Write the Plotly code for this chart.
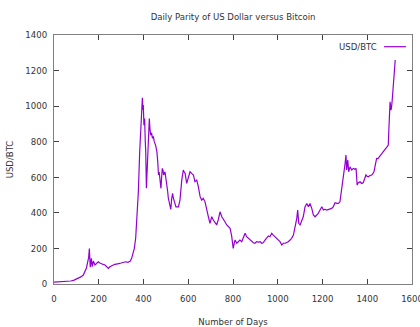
import plotly.graph_objects as go

# Daily USD/BTC parity, sampled by day number
days = [0, 20, 40, 60, 75, 90, 100, 110, 120, 131, 139, 145, 150, 155, 158, 160, 162, 165, 167, 170,
        171, 176, 183, 190, 198, 205, 213, 220, 228, 235, 243, 250, 258, 265, 272, 280, 290, 300, 310, 320,
        330, 340, 347, 353, 359, 365, 371, 377, 383, 389, 393, 395, 397, 399, 402, 405, 408, 410, 413, 417,
        422, 426, 429, 432, 436, 440, 444, 448, 454, 460, 464, 467, 470, 473, 476, 478, 481, 484, 487, 490,
        496, 500, 504, 508, 511, 515, 519, 522, 526, 530, 533, 536, 545, 556, 563, 571, 578, 582, 586, 593,
        600, 608, 615, 623, 630, 638, 645, 649, 653, 660, 667, 675, 682, 690, 697, 705, 712, 720, 727, 734,
        742, 750, 757, 764, 772, 779, 787, 794, 801, 805, 809, 817, 824, 831, 839, 846, 854, 861, 869, 876,
        884, 891, 898, 906, 913, 921, 928, 935, 943, 950, 958, 965, 973, 980, 988, 995, 1003, 1010, 1018, 1025,
        1033, 1040, 1047, 1055, 1062, 1070, 1077, 1085, 1089, 1094, 1100, 1107, 1114, 1122, 1130, 1137, 1144, 1152, 1159, 1167,
        1174, 1181, 1189, 1197, 1204, 1211, 1219, 1226, 1234, 1241, 1248, 1256, 1264, 1271, 1278, 1286, 1290, 1296, 1301, 1305,
        1308, 1313, 1317, 1323, 1331, 1338, 1345, 1350, 1355, 1360, 1368, 1375, 1382, 1388, 1394, 1400, 1405, 1412, 1420, 1425,
        1430, 1436, 1442, 1448, 1454, 1460, 1465, 1470, 1475, 1481, 1487, 1494, 1496, 1498, 1500, 1502, 1504, 1506, 1508, 1511,
        1514, 1516, 1518, 1521, 1523, 1525]
usd_btc = [11, 12, 13, 14, 17, 22, 27, 32, 40, 50, 70, 90, 120, 150, 200, 130, 94, 120, 144, 110,
           97, 129, 107, 115, 125, 118, 116, 110, 107, 95, 88, 97, 100, 107, 110, 111, 115, 118, 122, 125,
           122, 128, 144, 170, 200, 257, 369, 519, 743, 931, 1010, 1047, 980, 1006, 893, 931, 800, 743, 538, 688,
           819, 931, 870, 837, 850, 819, 830, 800, 781, 743, 680, 613, 630, 594, 560, 538, 600, 650, 640, 613,
           631, 600, 556, 520, 482, 460, 444, 420, 480, 510, 485, 472, 434, 434, 472, 584, 641, 630, 622, 566,
           603, 631, 622, 613, 575, 584, 547, 510, 491, 472, 482, 462, 416, 378, 341, 378, 360, 341, 332, 360,
           406, 378, 360, 350, 332, 322, 313, 270, 200, 225, 247, 229, 238, 247, 238, 257, 285, 266, 257, 247,
           238, 232, 229, 238, 236, 238, 229, 232, 247, 257, 270, 266, 285, 275, 266, 257, 247, 238, 219, 229,
           229, 232, 238, 247, 257, 275, 313, 369, 416, 341, 332, 360, 378, 434, 453, 434, 453, 425, 388, 378,
           388, 397, 416, 434, 416, 420, 416, 420, 425, 425, 434, 457, 453, 453, 462, 528, 584, 622, 678, 725,
           641, 697, 631, 659, 641, 650, 645, 650, 556, 570, 575, 565, 569, 590, 613, 605, 603, 610, 613, 620,
           631, 670, 706, 705, 716, 725, 734, 745, 753, 760, 768, 781, 850, 940, 1000, 1025, 1000, 978, 990, 1025,
           1080, 1137, 1160, 1184, 1220, 1259]

x_ticks = [0, 200, 400, 600, 800, 1000, 1200, 1400, 1600]
y_ticks = [0, 200, 400, 600, 800, 1000, 1200, 1400]

LINE = "#9400D3"
FONT = "Liberation Sans Narrow, DejaVu Sans Condensed, Arial Narrow, sans-serif"
TXT = "#333333"
FS = 9.5

fig = go.Figure()
fig.add_trace(go.Scatter(x=days, y=usd_btc, mode="lines", name="USD/BTC",
                         line=dict(color=LINE, width=1.2), showlegend=False))

axis_common = dict(showgrid=False, zeroline=False, showline=True, linecolor="#808080", linewidth=1,
                   mirror="allticks", ticks="inside", ticklen=5, tickcolor="#404040", tickwidth=1,
                   ticklabeloverflow="allow", automargin=False,
                   tickfont=dict(family=FONT, size=FS, color=TXT))

fig.update_xaxes(range=[0, 1600], tickvals=x_ticks, ticktext=[str(v) for v in x_ticks],
                 ticklabelstandoff=6,
                 title=dict(text="Number of Days", font=dict(family=FONT, size=FS, color=TXT), standoff=16),
                 **axis_common)
fig.update_yaxes(range=[0, 1400], tickvals=y_ticks, ticktext=[str(v) for v in y_ticks],
                 ticklabelstandoff=4,
                 title=dict(text="USD/BTC", font=dict(family=FONT, size=FS, color=TXT), standoff=10),
                 **axis_common)

# Key: label followed by a short line sample, in the upper right corner
fig.add_annotation(xref="paper", yref="paper", x=0.907, y=0.953, xanchor="right", yanchor="middle",
                   text="USD/BTC", showarrow=False, font=dict(family=FONT, size=FS, color=TXT))
fig.add_shape(type="line", xref="paper", yref="paper", x0=0.922, x1=0.983, y0=0.953, y1=0.953,
              line=dict(color=LINE, width=1.2))

fig.update_layout(
    width=420, height=327,
    margin=dict(l=54, r=8, t=35, b=43),
    paper_bgcolor="white", plot_bgcolor="white",
    title=dict(text="Daily Parity of US Dollar versus Bitcoin", x=0.555, xanchor="center",
               y=0.95, yanchor="middle", font=dict(family=FONT, size=FS, color=TXT)),
)

fig.write_html("out.html")
